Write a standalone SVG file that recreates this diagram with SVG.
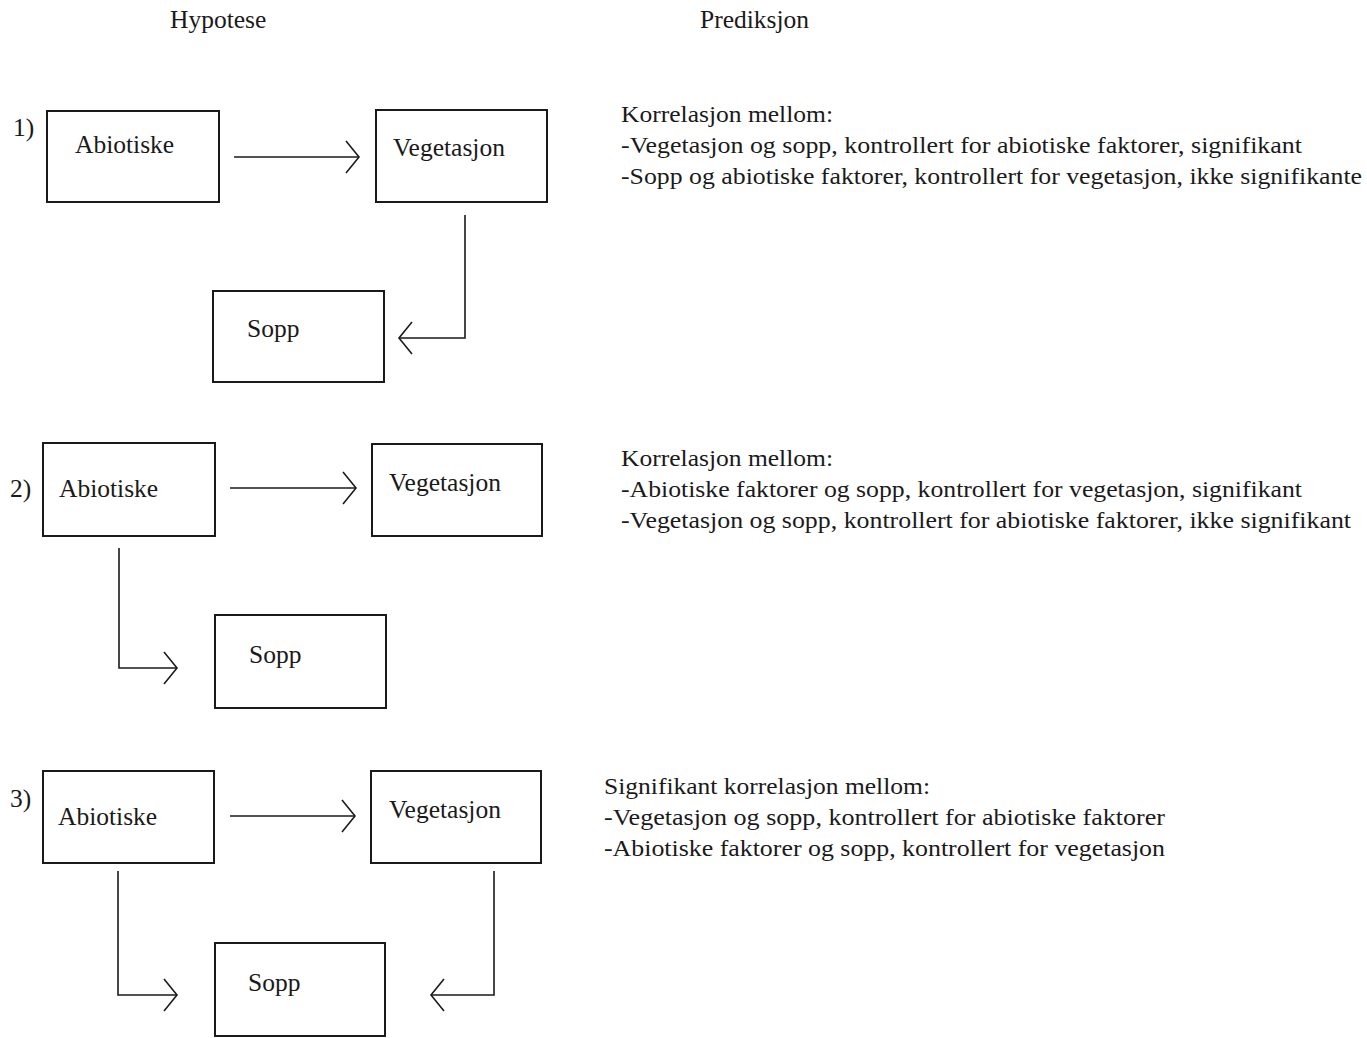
<svg xmlns="http://www.w3.org/2000/svg" width="1367" height="1038" viewBox="0 0 1367 1038">
<style>
text{font-family:"Liberation Serif","Times New Roman",serif;fill:#1a1a1a;font-size:25.5px}
.pred text{font-size:24px}
.box{fill:none;stroke:#1a1a1a;stroke-width:2}
.con{fill:none;stroke:#1a1a1a;stroke-width:1.6;marker-end:url(#chev)}
</style>
<defs>
<marker id="chev" markerUnits="userSpaceOnUse" markerWidth="30" markerHeight="40" viewBox="-16 -20 20 40" refX="0" refY="0" orient="auto">
<path d="M-13,-16 L0,0 L-13,16" fill="none" stroke="#1a1a1a" stroke-width="1.6"/>
</marker>
</defs>
<rect width="1367" height="1038" fill="#ffffff"/>
<g id="headers">
<text x="170" y="28">Hypotese</text>
<text x="700" y="28">Prediksjon</text>
</g>
<g id="labels">
<text x="13" y="136">1)</text>
<text x="10" y="497">2)</text>
<text x="10" y="807">3)</text>
</g>
<g id="p1-abiotiske"><rect class="box" x="47" y="111" width="172" height="91"/><text x="75" y="153">Abiotiske</text></g>
<g id="p1-vegetasjon"><rect class="box" x="376" y="110" width="171" height="92"/><text x="393" y="156">Vegetasjon</text></g>
<g id="p1-sopp"><rect class="box" x="213" y="291" width="171" height="91"/><text x="247" y="337">Sopp</text></g>
<g id="p2-abiotiske"><rect class="box" x="43" y="443" width="172" height="93"/><text x="59" y="497">Abiotiske</text></g>
<g id="p2-vegetasjon"><rect class="box" x="372" y="444" width="170" height="92"/><text x="389" y="491">Vegetasjon</text></g>
<g id="p2-sopp"><rect class="box" x="215" y="615" width="171" height="93"/><text x="249" y="663">Sopp</text></g>
<g id="p3-abiotiske"><rect class="box" x="43" y="771" width="171" height="92"/><text x="58" y="825">Abiotiske</text></g>
<g id="p3-vegetasjon"><rect class="box" x="371" y="771" width="170" height="92"/><text x="389" y="818">Vegetasjon</text></g>
<g id="p3-sopp"><rect class="box" x="215" y="943" width="170" height="93"/><text x="248" y="991">Sopp</text></g>
<g id="connectors">
<path class="con" d="M234,157 H359"/>
<path class="con" d="M465,215 V338 H399"/>
<path class="con" d="M230,488 H356"/>
<path class="con" d="M119,548 V668 H177"/>
<path class="con" d="M230,816 H355"/>
<path class="con" d="M118,871 V995 H177"/>
<path class="con" d="M494,871 V995 H431"/>
</g>
<g id="pred1" class="pred">
<text x="621" y="122" textLength="212" lengthAdjust="spacingAndGlyphs">Korrelasjon mellom:</text>
<text x="621" y="153" textLength="681" lengthAdjust="spacingAndGlyphs">-Vegetasjon og sopp, kontrollert for abiotiske faktorer, signifikant</text>
<text x="621" y="184" textLength="741" lengthAdjust="spacingAndGlyphs">-Sopp og abiotiske faktorer, kontrollert for vegetasjon, ikke signifikante</text>
</g>
<g id="pred2" class="pred">
<text x="621" y="466" textLength="212" lengthAdjust="spacingAndGlyphs">Korrelasjon mellom:</text>
<text x="621" y="497" textLength="681" lengthAdjust="spacingAndGlyphs">-Abiotiske faktorer og sopp, kontrollert for vegetasjon, signifikant</text>
<text x="621" y="528" textLength="730" lengthAdjust="spacingAndGlyphs">-Vegetasjon og sopp, kontrollert for abiotiske faktorer, ikke signifikant</text>
</g>
<g id="pred3" class="pred">
<text x="604" y="794" textLength="326" lengthAdjust="spacingAndGlyphs">Signifikant korrelasjon mellom:</text>
<text x="604" y="825" textLength="561" lengthAdjust="spacingAndGlyphs">-Vegetasjon og sopp, kontrollert for abiotiske faktorer</text>
<text x="604" y="856" textLength="561" lengthAdjust="spacingAndGlyphs">-Abiotiske faktorer og sopp, kontrollert for vegetasjon</text>
</g>
</svg>
